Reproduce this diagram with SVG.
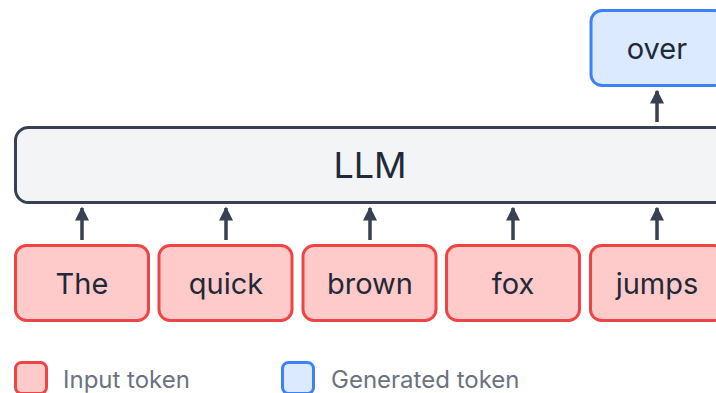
<svg xmlns="http://www.w3.org/2000/svg" width="716" height="393" viewBox="0 0 716 393">
<style>
.tok rect{fill:#fecaca;stroke:#ef4444;stroke-width:3}
.gen rect{fill:#dbeafe;stroke:#3b82f6;stroke-width:3}
.llm rect{fill:#f3f4f6;stroke:#374151;stroke-width:3}
text{font-family:Inter,"Noto Sans",sans-serif;fill:#1f2937;text-anchor:middle;dominant-baseline:central}
.t{font-size:29px}
.big{font-size:36px}
.leg{font-size:24px;fill:#6b7280;text-anchor:start}
.arr{stroke:#374151;stroke-width:3.5;fill:none}
</style>
<defs>
<marker id="ah" viewBox="0 0 10 10" refX="9" refY="5" markerWidth="14" markerHeight="16" markerUnits="userSpaceOnUse" orient="auto">
<path d="M0,0 L10,5 L0,10 Z" fill="#374151"/>
</marker>
</defs>
<rect width="716" height="393" fill="#ffffff"/>
<g id="llm" class="llm"><rect x="15.5" y="127.5" width="720" height="75" rx="13"/><text class="big" x="370" y="165">LLM</text></g>
<g id="over" class="gen"><rect x="591" y="10.5" width="134" height="75" rx="11"/><text class="t" x="657" y="48">over</text></g>
<g id="t-the" class="tok"><rect x="15.5" y="245.5" width="133" height="75" rx="11"/><text class="t" x="82" y="283">The</text></g>
<g id="t-quick" class="tok"><rect x="159" y="245.5" width="133" height="75" rx="11"/><text class="t" x="226" y="283">quick</text></g>
<g id="t-brown" class="tok"><rect x="303" y="245.5" width="133" height="75" rx="11"/><text class="t" x="370" y="283">brown</text></g>
<g id="t-fox" class="tok"><rect x="446.5" y="245.5" width="133" height="75" rx="11"/><text class="t" x="513" y="283">fox</text></g>
<g id="t-jumps" class="tok"><rect x="590.5" y="245.5" width="134" height="75" rx="11"/><text class="t" x="657" y="283">jumps</text></g>
<g id="connectors">
<line class="arr" x1="82" y1="240" x2="82" y2="208" marker-end="url(#ah)"/>
<line class="arr" x1="226" y1="240" x2="226" y2="208" marker-end="url(#ah)"/>
<line class="arr" x1="370" y1="240" x2="370" y2="208" marker-end="url(#ah)"/>
<line class="arr" x1="513" y1="240" x2="513" y2="208" marker-end="url(#ah)"/>
<line class="arr" x1="657" y1="240" x2="657" y2="208" marker-end="url(#ah)"/>
<line class="arr" x1="657" y1="122" x2="657" y2="91" marker-end="url(#ah)"/>
</g>
<g id="legend">
<rect x="15.5" y="362.5" width="31" height="31" rx="6" fill="#fecaca" stroke="#ef4444" stroke-width="3"/>
<text class="leg" x="63" y="379">Input token</text>
<rect x="282.5" y="362.5" width="31" height="31" rx="6" fill="#dbeafe" stroke="#3b82f6" stroke-width="3"/>
<text class="leg" x="331" y="379">Generated token</text>
</g>
</svg>
